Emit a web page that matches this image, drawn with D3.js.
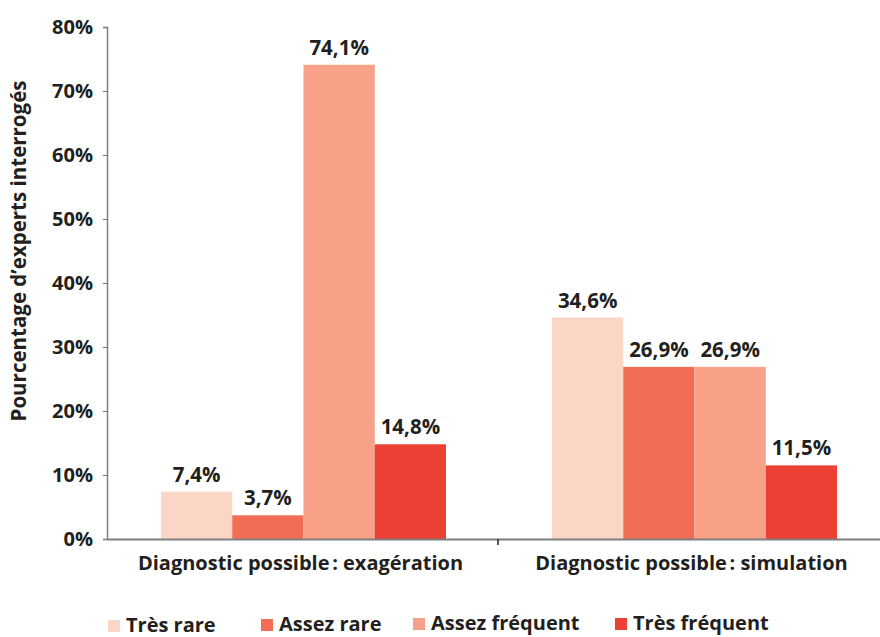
<!DOCTYPE html>
<html>
<head>
<meta charset="utf-8">
<script src="https://cdn.jsdelivr.net/npm/d3@7"></script>
<style>
  html, body { margin: 0; padding: 0; background: #fff; }
  svg text { font-family: "Open Sans", "Noto Sans", sans-serif; fill: #231f20; }
</style>
</head>
<body>
<svg id="chart" width="880" height="637"></svg>
<script>
// Data
const groups = ["Diagnostic possible\u202f: exagération", "Diagnostic possible\u202f: simulation"];
const seriesNames = ["Très rare", "Assez rare", "Assez fréquent", "Très fréquent"];
const seriesColors = ["#fbd6c7", "#f26d55", "#f6a188", "#ec4035"];
const valuesExageration = [7.4, 3.7, 74.1, 14.8];
const valuesSimulation = [34.6, 26.9, 26.9, 11.5];
const yTicks = [0, 10, 20, 30, 40, 50, 60, 70, 80];
const yTitle = "Pourcentage d\u2019experts interrogés";

const rows = [valuesExageration, valuesSimulation];

const svg = d3.select("#chart");
const plotLeft = 107, plotRight = 889, plotTop = 27, plotBottom = 539;

const x0 = d3.scaleBand().domain(groups).range([plotLeft, plotRight]).paddingInner(0).paddingOuter(0);
const x1 = d3.scaleBand().domain(seriesNames).range([54, x0.bandwidth() - 52]).padding(0);
const y = d3.scaleLinear().domain([0, 80]).range([plotBottom, plotTop]);

const fmt = v => d3.format(".1f")(v).replace(".", ",") + "%";

// Bars and value labels
const g = svg.append("g");
groups.forEach((grp, gi) => {
  const gg = g.append("g").attr("transform", `translate(${x0(grp)},0)`);
  gg.selectAll("rect")
    .data(seriesNames.map((s, i) => ({ s, v: rows[gi][i], c: seriesColors[i] })))
    .join("rect")
    .attr("x", d => x1(d.s))
    .attr("width", x1.bandwidth())
    .attr("y", d => y(d.v))
    .attr("height", d => y(0) - y(d.v))
    .attr("fill", d => d.c);
  gg.selectAll("text.val")
    .data(seriesNames.map((s, i) => ({ s, v: rows[gi][i] })))
    .join("text")
    .attr("class", "val")
    .attr("x", d => x1(d.s) + x1.bandwidth() / 2)
    .attr("y", d => y(d.v) - 10)
    .attr("text-anchor", "middle")
    .attr("font-size", 20.5)
    .attr("font-weight", 700)
    .text(d => fmt(d.v));
});

// Y axis
const yAxis = d3.axisLeft(y).tickValues(yTicks).tickSize(4).tickPadding(10).tickFormat(d => d + "%");
const ya = svg.append("g").attr("transform", `translate(${plotLeft},0)`).call(yAxis);
ya.select(".domain").attr("stroke", "#7f7f7f").attr("stroke-width", 1.5);
ya.selectAll(".tick line").attr("stroke", "#7f7f7f").attr("stroke-width", 1.2);
ya.selectAll(".tick text").attr("font-size", 20).attr("font-weight", 700)
  .attr("font-family", "'Open Sans', sans-serif").attr("fill", "#231f20");

// X axis
const xAxis = d3.axisBottom(x0).tickValues([]).tickSizeOuter(0);
const xa = svg.append("g").attr("transform", `translate(0,${plotBottom})`).call(xAxis);
xa.select(".domain").attr("stroke", "#7f7f7f").attr("stroke-width", 2);
// separator tick between the two groups
xa.append("line")
  .attr("x1", x0(groups[1])).attr("x2", x0(groups[1]))
  .attr("y1", 0).attr("y2", 6)
  .attr("stroke", "#231f20").attr("stroke-width", 1.5);

// Group labels
svg.selectAll("text.grp")
  .data(groups)
  .join("text")
  .attr("class", "grp")
  .attr("x", d => x0(d) + x0.bandwidth() / 2 - 2)
  .attr("y", plotBottom + 31)
  .attr("text-anchor", "middle")
  .attr("font-size", 20)
  .attr("font-weight", 700)
  .text(d => d);

// Y title
svg.append("text")
  .attr("transform", "translate(26,251) rotate(-90)")
  .attr("text-anchor", "middle")
  .attr("font-size", 20.5)
  .attr("font-weight", 700)
  .text(yTitle);

// Legend
const legendX = [108, 261, 413, 615];
const legendY = [632, 631, 630, 630];
const lg = svg.append("g");
seriesNames.forEach((s, i) => {
  lg.append("rect")
    .attr("x", legendX[i]).attr("y", legendY[i] - 12)
    .attr("width", 12).attr("height", 12)
    .attr("fill", seriesColors[i]);
  lg.append("text")
    .attr("x", legendX[i] + 18).attr("y", legendY[i])
    .attr("font-size", 20).attr("font-weight", 700)
    .text(s);
});
</script>
</body>
</html>
